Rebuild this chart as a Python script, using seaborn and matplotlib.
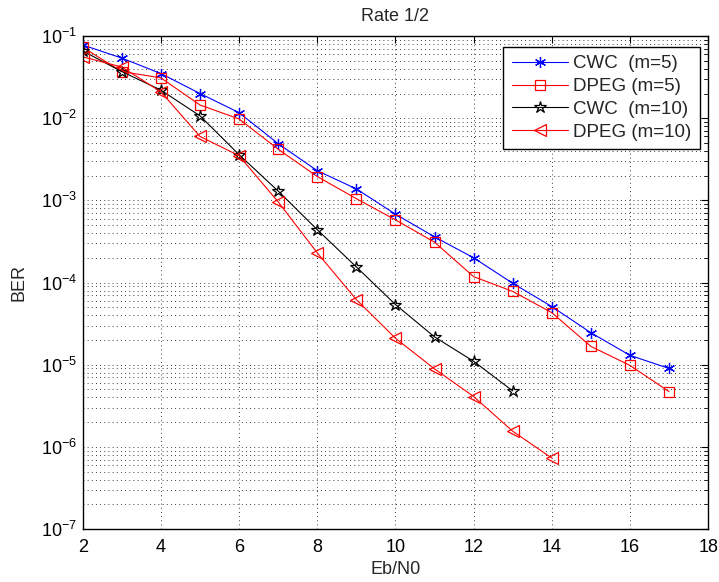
import numpy as np
import pandas as pd
import matplotlib
matplotlib.use("Agg")
import matplotlib.pyplot as plt
import seaborn as sns
from matplotlib.ticker import LogLocator, NullFormatter, FixedLocator

sns.set_style("white")
plt.rcParams['font.family'] = ['Liberation Sans', 'DejaVu Sans']
plt.rcParams['mathtext.fontset'] = 'custom'
plt.rcParams['mathtext.rm'] = 'Liberation Sans'

x_cwc5 = [2, 3, 4, 5, 6, 7, 8, 9, 10, 11, 12, 13, 14, 15, 16, 17]
ber_cwc5 = [0.078, 0.054, 0.035, 0.020, 0.0117, 0.0049, 0.0023, 0.00138, 0.00068,
            0.00036, 0.00020, 9.8e-5, 5.1e-5, 2.45e-5, 1.3e-5, 9.0e-6]
x_dpeg5 = [2, 3, 4, 5, 6, 7, 8, 9, 10, 11, 12, 13, 14, 15, 16, 17]
ber_dpeg5 = [0.073, 0.037, 0.031, 0.0145, 0.0098, 0.0042, 0.00195, 0.00105, 0.00058,
             0.00031, 0.000118, 7.8e-5, 4.3e-5, 1.67e-5, 9.8e-6, 4.7e-6]
x_cwc10 = [2, 3, 4, 5, 6, 7, 8, 9, 10, 11, 12, 13]
ber_cwc10 = [0.066, 0.037, 0.022, 0.0107, 0.0036, 0.0013, 0.00044, 0.000155, 5.4e-5,
             2.18e-5, 1.1e-5, 4.8e-6]
x_dpeg10 = [2, 3, 4, 5, 6, 7, 8, 9, 10, 11, 12, 13, 14]
ber_dpeg10 = [0.056, 0.042, 0.021, 0.006, 0.0035, 0.00096, 0.00023, 6.2e-5, 2.1e-5,
              8.9e-6, 4.1e-6, 1.55e-6, 7.3e-7]

labels = ['CWC  (m=5)', 'DPEG (m=5)', 'CWC  (m=10)', 'DPEG (m=10)']
colors = ['#0000ff', '#ff0000', '#000000', '#ff0000']
markers = [(6, 2, 0), 's', '*', '<']
msizes = [8, 7, 9, 8.5]

series = [(x_cwc5, ber_cwc5), (x_dpeg5, ber_dpeg5), (x_cwc10, ber_cwc10), (x_dpeg10, ber_dpeg10)]
frames = []
for lab, (xs, ys) in zip(labels, series):
    frames.append(pd.DataFrame({'Eb/N0': xs, 'BER': ys, 'code': lab}))
df = pd.concat(frames, ignore_index=True)

fig = plt.figure(figsize=(7.19, 5.82), dpi=100)
ax = fig.add_axes([0.115, 0.091, 0.870, 0.847])

for lab, col, mk, ms in zip(labels, colors, markers, msizes):
    sub = df[df['code'] == lab]
    sns.lineplot(data=sub, x='Eb/N0', y='BER', ax=ax, color=col, marker=mk,
                 markersize=ms, markerfacecolor='none', markeredgecolor=col,
                 markeredgewidth=0.9, linewidth=0.8, label=lab, estimator=None,
                 sort=False)

ax.set_yscale('log')
ax.set_xlim(2, 18)
ax.set_ylim(1e-7, 1e-1)
ax.xaxis.set_major_locator(FixedLocator([2, 4, 6, 8, 10, 12, 14, 16, 18]))
ax.yaxis.set_major_locator(LogLocator(base=10, numticks=10))
ax.yaxis.set_minor_locator(LogLocator(base=10, subs=np.arange(2, 10), numticks=20))
ax.yaxis.set_minor_formatter(NullFormatter())

ax.grid(True, which='major', axis='both', linestyle=(0, (1, 4)), color='#000000', linewidth=0.6)
ax.grid(True, which='minor', axis='y', linestyle=(0, (1, 4)), color='#000000', linewidth=0.6)

ax.tick_params(axis='both', which='both', direction='in', top=True, right=True,
               labelsize=13, colors='#000000')
ax.tick_params(axis='x', which='major', pad=7)
ax.tick_params(axis='y', which='major', pad=4)
ax.tick_params(which='major', length=5)
ax.tick_params(which='minor', length=3)
for sp in ax.spines.values():
    sp.set_visible(True)
    sp.set_color('#000000')
    sp.set_linewidth(1.0)

ax.set_xlabel('Eb/N0', fontsize=13, labelpad=4)
ax.set_ylabel('BER', fontsize=13, labelpad=10)
ax.set_title('Rate 1/2', fontsize=13, pad=11)

leg = ax.legend(loc='upper right', fontsize=13.5, frameon=True, fancybox=False,
                edgecolor='#000000', framealpha=1, handlelength=3.0,
                borderpad=0.45, labelspacing=0.3, handletextpad=0.3,
                borderaxespad=0, bbox_to_anchor=(0.987, 0.978))
leg.get_frame().set_linewidth(1.0)

fig.savefig('out.png', dpi=100)
